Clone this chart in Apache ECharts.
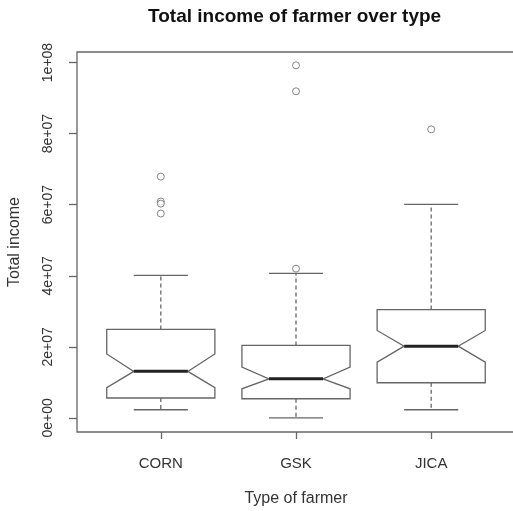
<!DOCTYPE html>
<html>
<head>
<meta charset="utf-8">
<script src="https://cdn.jsdelivr.net/npm/echarts@6/dist/echarts.min.js"></script>
<style>html,body{margin:0;padding:0;background:#fff}#c{width:513px;height:511px}</style>
</head>
<body>
<div id="c"></div>
<script>
// ---- data ----
var categories = ['CORN', 'GSK', 'JICA'];
var lowerWhisker = [2.3e6, 0.0, 2.3e6];
var q1Values     = [5.6e6, 5.4e6, 9.9e6];
var medians      = [13.1e6, 11.0e6, 20.2e6];
var q3Values     = [24.9e6, 20.4e6, 30.5e6];
var upperWhisker = [40.1e6, 40.7e6, 60.1e6];
var notchLow     = [8.5e6, 8.2e6, 15.7e6];
var notchHigh    = [18.0e6, 14.3e6, 24.6e6];
var outlierCat   = [1, 1, 1, 1, 2, 2, 2, 3];
var outlierVal   = [67.9e6, 60.9e6, 60.3e6, 57.5e6, 99.2e6, 91.9e6, 42.0e6, 81.2e6];
var yTicks = [0, 2e7, 4e7, 6e7, 8e7, 1e8];
var xTicks = [1, 2, 3];

// ---- build ----
var boxData = categories.map(function (c, i) {
  return [i + 1, lowerWhisker[i], q1Values[i], medians[i], q3Values[i], upperWhisker[i], notchLow[i], notchHigh[i]];
});
var outData = outlierCat.map(function (c, i) { return [c, outlierVal[i]]; });

function sci(v) {
  if (v === 0) return '0e+00';
  var e = Math.floor(Math.log10(Math.abs(v)) + 1e-9);
  var m = Math.round(v / Math.pow(10, e) * 100) / 100;
  return m + 'e+' + (e < 10 ? '0' + e : e);
}

var LINE = '#666';
var FONT = 'Liberation Sans';

function renderItem(params, api) {
  var x = api.value(0);
  var lo = api.value(1), q1 = api.value(2), med = api.value(3), q3 = api.value(4), hi = api.value(5);
  var nl = api.value(6), nh = api.value(7);
  var w = 0.4, nw = 0.2, sw = 0.2;
  function p(dx, v) { return api.coord([x + dx, v]); }
  var poly = [p(-w, q3), p(w, q3), p(w, nh), p(nw, med), p(w, nl), p(w, q1), p(-w, q1), p(-w, nl), p(-nw, med), p(-w, nh)];
  var st = { stroke: LINE, lineWidth: 1.3, fill: null };
  var dash = { stroke: LINE, lineWidth: 1.3, lineDash: [4, 3] };
  var c0 = p(0, q3), c1 = p(0, hi), c2 = p(0, q1), c3 = p(0, lo);
  var a = p(-sw, hi), b = p(sw, hi), a2 = p(-sw, lo), b2 = p(sw, lo);
  var m1 = p(-nw, med), m2 = p(nw, med);
  return {
    type: 'group',
    children: [
      { type: 'line', shape: { x1: c0[0], y1: c0[1], x2: c1[0], y2: c1[1] }, style: dash },
      { type: 'line', shape: { x1: c2[0], y1: c2[1], x2: c3[0], y2: c3[1] }, style: dash },
      { type: 'line', shape: { x1: a[0], y1: a[1], x2: b[0], y2: b[1] }, style: st },
      { type: 'line', shape: { x1: a2[0], y1: a2[1], x2: b2[0], y2: b2[1] }, style: st },
      { type: 'polygon', shape: { points: poly }, style: { stroke: LINE, lineWidth: 1.3, fill: '#fff' } },
      { type: 'line', shape: { x1: m1[0], y1: m1[1], x2: m2[0], y2: m2[1] }, style: { stroke: '#222', lineWidth: 3 } }
    ]
  };
}

var chart = echarts.init(document.getElementById('c'), null, { renderer: 'canvas' });
chart.setOption({
  animation: false,
  backgroundColor: '#fff',
  title: {
    text: 'Total income of farmer over type',
    left: 143, top: 2,
    textStyle: { fontFamily: FONT, fontWeight: 'bold', fontSize: 19, color: '#111' }
  },
  grid: {
    left: 77, top: 52, width: 438, height: 380,
    outerBoundsMode: 'none', containLabel: false,
    show: true, borderColor: LINE, borderWidth: 1.3, backgroundColor: 'transparent'
  },
  xAxis: {
    type: 'value', min: 0.38, max: 3.62,
    name: 'Type of farmer', nameLocation: 'middle', nameGap: 59,
    nameTextStyle: { fontFamily: FONT, fontSize: 16, color: '#333' },
    axisLine: { show: false, onZero: false },
    splitLine: { show: false },
    axisTick: { show: true, length: 7, customValues: xTicks, lineStyle: { color: LINE, width: 1.3 } },
    axisLabel: {
      customValues: xTicks, margin: 24,
      fontFamily: FONT, fontSize: 15, color: '#333',
      formatter: function (v) { return categories[Math.round(v) - 1] || ''; }
    }
  },
  yAxis: {
    type: 'value', min: -3.96e6, max: 102.96e6,
    name: 'Total income', nameLocation: 'middle', nameGap: 54,
    nameTextStyle: { fontFamily: FONT, fontSize: 16, color: '#333' },
    axisLine: { show: false, onZero: false },
    splitLine: { show: false },
    axisTick: { show: true, length: 8, customValues: yTicks, lineStyle: { color: LINE, width: 1.3 } },
    axisLabel: {
      customValues: yTicks, rotate: 90, margin: 22,
      fontFamily: FONT, fontSize: 14, color: '#333',
      formatter: sci
    }
  },
  series: [
    { type: 'custom', renderItem: renderItem, data: boxData, encode: { x: 0, y: [1, 2, 3, 4, 5] }, z: 2 },
    { type: 'scatter', data: outData, symbol: 'circle', symbolSize: 7,
      itemStyle: { color: '#fff', borderColor: LINE, borderWidth: 1 }, z: 3 }
  ]
});
</script>
</body>
</html>
